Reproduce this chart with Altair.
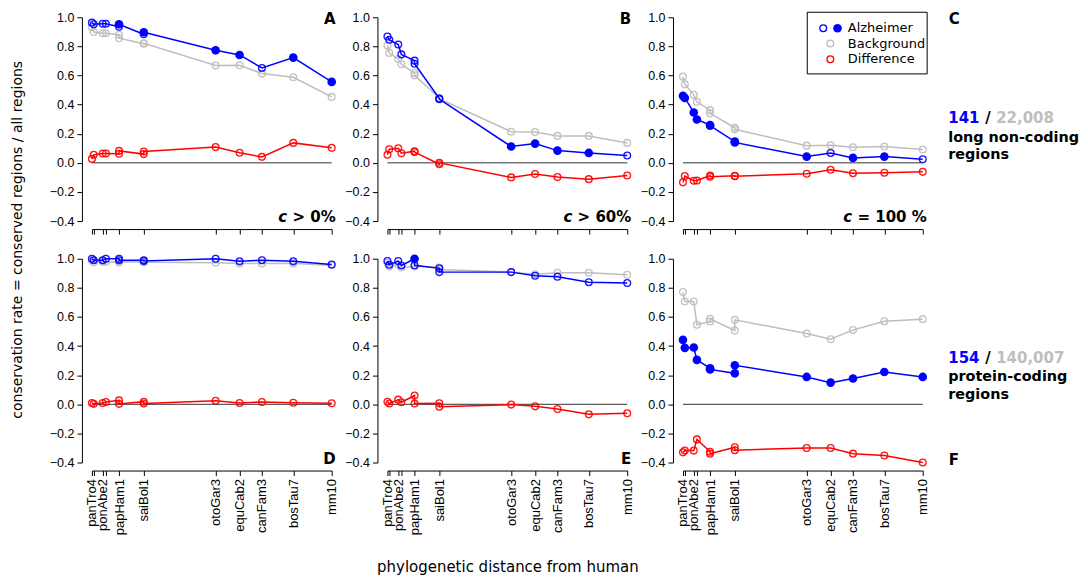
import altair as alt
import pandas as pd

# ---------------- data ----------------
species = ["panTro4", "gorGor3", "ponAbe2", "nomLeu3", "rheMac3", "papHam1", "calJac3",
           "saiBol1", "otoGar3", "equCab2", "canFam3", "bosTau7", "mm10"]
dist = [0.010, 0.017, 0.051, 0.063, 0.113, 0.113, 0.207, 0.207, 0.480, 0.571, 0.656, 0.775, 0.921]
axis_names = ["panTro4", "", "ponAbe2", "", "", "papHam1", "", "saiBol1",
              "otoGar3", "equCab2", "canFam3", "bosTau7", "mm10"]

A_alz = [0.963, 0.952, 0.955, 0.955, 0.935, 0.952, 0.883, 0.897, 0.773, 0.741, 0.652, 0.723, 0.556]
A_sig = [0, 0, 0, 0, 0, 1, 0, 1, 1, 1, 0, 1, 1]
A_bg = [0.931, 0.899, 0.890, 0.890, 0.880, 0.856, 0.818, 0.822, 0.668, 0.670, 0.613, 0.588, 0.453]
A_diff = [0.027, 0.055, 0.064, 0.064, 0.062, 0.082, 0.060, 0.078, 0.108, 0.069, 0.041, 0.137, 0.103]

B_alz = [0.868, 0.845, 0.813, 0.745, 0.702, 0.681, 0.442, 0.437, 0.112, 0.132, 0.084, 0.068, 0.050]
B_sig = [0, 0, 0, 0, 0, 0, 0, 0, 1, 1, 1, 1, 0]
B_bg = [0.806, 0.754, 0.713, 0.677, 0.617, 0.601, 0.445, 0.440, 0.214, 0.212, 0.185, 0.185, 0.137]
B_diff = [0.055, 0.093, 0.100, 0.066, 0.080, 0.074, -0.010, 0.000, -0.100, -0.077, -0.098, -0.112, -0.087]

C_alz = [0.460, 0.446, 0.346, 0.298, 0.260, 0.255, 0.146, 0.140, 0.043, 0.068, 0.034, 0.043, 0.025]
C_sig = [1, 1, 1, 1, 1, 1, 1, 1, 1, 0, 1, 1, 0]
C_bg = [0.592, 0.540, 0.467, 0.419, 0.362, 0.340, 0.241, 0.230, 0.118, 0.121, 0.107, 0.112, 0.091]
C_diff = [-0.134, -0.091, -0.123, -0.121, -0.087, -0.096, -0.089, -0.092, -0.075, -0.048, -0.071, -0.068, -0.062]

D_alz = [1.000, 0.990, 0.990, 1.000, 1.000, 0.990, 0.990, 0.985, 1.000, 0.982, 0.990, 0.982, 0.960]
D_sig = [0] * 13
D_bg = [0.990, 0.976, 0.980, 0.980, 0.975, 0.980, 0.975, 0.975, 0.972, 0.968, 0.968, 0.968, 0.955]
D_diff = [0.009, 0.003, 0.009, 0.016, 0.027, 0.003, 0.018, 0.005, 0.025, 0.009, 0.016, 0.011, 0.007]

E_alz = [0.984, 0.959, 0.984, 0.954, 1.000, 0.955, 0.934, 0.908, 0.908, 0.883, 0.876, 0.839, 0.833]
E_sig = [0, 0, 0, 0, 1, 0, 0, 0, 0, 0, 0, 0, 0]
E_bg = [0.970, 0.947, 0.961, 0.940, 0.947, 0.950, 0.940, 0.926, 0.908, 0.894, 0.904, 0.904, 0.890]
E_diff = [0.018, 0.005, 0.032, 0.014, 0.060, 0.005, 0.007, -0.016, -0.002, -0.014, -0.032, -0.069, -0.062]

F_alz = [0.443, 0.388, 0.390, 0.305, 0.248, 0.240, 0.213, 0.268, 0.188, 0.149, 0.177, 0.222, 0.188]
F_sig = [1] * 13
F_bg = [0.771, 0.706, 0.706, 0.546, 0.569, 0.587, 0.507, 0.580, 0.486, 0.447, 0.511, 0.571, 0.585]
F_diff = [-0.330, -0.318, -0.318, -0.241, -0.326, -0.339, -0.295, -0.315, -0.300, -0.300, -0.339, -0.352, -0.400]

y_ticks = [-0.4, -0.2, 0.0, 0.2, 0.4, 0.6, 0.8, 1.0]

BLUE, GRAY, RED = "#0000FF", "#BEBEBE", "#FF0000"
W, H = 240, 204
AXFONT = "Liberation Sans"
TXFONT = "DejaVu Sans"

one = pd.DataFrame({"k": [0]})

tick_vals = sorted(set(dist))
expr = "''"
for d, n in reversed(list(zip(dist, axis_names))):
    if n:
        expr = f"datum.value == {d} ? '{n}' : ({expr})"


def x_enc(labels):
    return alt.X("dist:Q",
                 scale=alt.Scale(domain=[dist[0], dist[-1]], nice=False, zero=False, padding=0),
                 axis=alt.Axis(values=tick_vals, labelExpr=expr, labels=labels, labelAngle=270,
                               labelOverlap=False, labelFont=AXFONT, labelFontSize=13,
                               labelColor="black", labelPadding=3, offset=8, tickSize=5,
                               tickColor="black", domainColor="black", grid=False, title=None))


y_enc = alt.Y("value:Q",
              scale=alt.Scale(domain=[-0.4, 1.0], nice=False, zero=False),
              axis=alt.Axis(values=y_ticks, format=".1f", offset=10, tickSize=5,
                            tickColor="black", domainColor="black", labelFont=AXFONT,
                            labelFontSize=12.5, labelColor="black", labelPadding=3,
                            labelOverlap=False, grid=False, title=None))


def txt(s, x, y, **kw):
    return alt.Chart(one).mark_text(text=s, **kw).encode(x=alt.value(x), y=alt.value(y))


def pt(x, y, color, filled, size):
    return alt.Chart(one).mark_point(shape="circle", filled=filled, color=color, size=size,
                                     strokeWidth=1.3, opacity=1).encode(x=alt.value(x), y=alt.value(y))


def panel(alz, sig, bg, diff, labels, extras):
    rows = []
    for i in range(len(dist)):
        rows.append({"idx": i, "species": species[i], "dist": dist[i], "series": "bg", "value": bg[i], "sig": 0})
        rows.append({"idx": i, "species": species[i], "dist": dist[i], "series": "alz", "value": alz[i], "sig": sig[i]})
        rows.append({"idx": i, "species": species[i], "dist": dist[i], "series": "diff", "value": diff[i], "sig": 0})
    df = pd.DataFrame(rows)
    X = x_enc(labels)
    zero = alt.Chart(pd.DataFrame({"dist": [dist[0]], "dist2": [dist[-1]], "value": [0.0]})).mark_rule(
        color="#333333", strokeWidth=1).encode(x=X, x2="dist2:Q", y=y_enc)
    base = alt.Chart(df)
    layers = [zero]
    for ser, col in [("bg", GRAY), ("alz", BLUE), ("diff", RED)]:
        sub = base.transform_filter(alt.datum.series == ser)
        layers.append(sub.mark_line(color=col, strokeWidth=1.5).encode(x=X, y=y_enc, order="idx:Q"))
        layers.append(sub.transform_filter(alt.datum.sig == 0).mark_point(
            shape="circle", filled=False, color=col, size=46, strokeWidth=1.3, opacity=0.9
        ).encode(x=X, y=y_enc))
        if ser == "alz":
            layers.append(sub.transform_filter(alt.datum.sig == 1).mark_point(
                shape="circle", filled=True, color=col, size=75, opacity=1
            ).encode(x=X, y=y_enc))
    layers += extras
    return alt.layer(*layers).properties(width=W, height=H)


def cnote(rest, rest_w):
    return [
        txt(rest, W + 4, H + 1, align="right", baseline="alphabetic", font=TXFONT,
            fontSize=15, fontWeight="bold", color="black"),
        txt("c", W + 4 - rest_w, H + 1, align="right", baseline="alphabetic", font=TXFONT,
            fontSize=15, fontWeight="bold", fontStyle="italic", color="black"),
    ]


def letter(s, x, y, align="right"):
    return txt(s, x, y, align=align, baseline="alphabetic", font=TXFONT, fontSize=15,
               fontWeight="bold", color="black")


def side(num, total, word, y0):
    x0 = 265.5
    return [
        txt(num, x0, y0, align="left", baseline="alphabetic", font=TXFONT, fontSize=15,
            fontWeight="bold", color=BLUE),
        txt("/", x0 + 37, y0, align="left", baseline="alphabetic", font=TXFONT, fontSize=15,
            fontWeight="bold", color="black"),
        txt(total, x0 + 48, y0, align="left", baseline="alphabetic", font=TXFONT, fontSize=15,
            fontWeight="bold", color=GRAY),
        txt(word, x0, y0 + 18.4, align="left", baseline="alphabetic", font=TXFONT, fontSize=14.4,
            fontWeight="bold", color="black"),
        txt("regions", x0, y0 + 36, align="left", baseline="alphabetic", font=TXFONT, fontSize=14.4,
            fontWeight="bold", color="black"),
    ]


legend = [
    alt.Chart(one).mark_rect(fill="white", stroke="black", strokeWidth=1).encode(
        x=alt.value(124.4), x2=alt.value(244.4), y=alt.value(-5), y2=alt.value(56.7)),
    pt(140.4, 11, BLUE, False, 46), pt(154.7, 11, BLUE, True, 75),
    pt(147.5, 26.3, GRAY, False, 46), pt(147.5, 42, RED, False, 46),
    txt("Alzheimer", 165, 11, align="left", baseline="middle", font=TXFONT, fontSize=13, color="black"),
    txt("Background", 165, 26.3, align="left", baseline="middle", font=TXFONT, fontSize=13, color="black"),
    txt("Difference", 165, 42, align="left", baseline="middle", font=TXFONT, fontSize=13, color="black"),
]

ytitle = txt("conservation rate = conserved regions / all regions", -73.5, 222.7, angle=270,
             align="center", baseline="middle", font=TXFONT, fontSize=14, color="black")
xtitle = txt("phylogenetic distance from human", 120.5, 309, align="center", baseline="middle",
             font=TXFONT, fontSize=15, color="black")

pA = panel(A_alz, A_sig, A_bg, A_diff, False, cnote(" > 0%", 48.5) + [letter("A", W + 4, 6.5), ytitle])
pB = panel(B_alz, B_sig, B_bg, B_diff, False, cnote(" > 60%", 58.9) + [letter("B", W + 4, 6.5)])
pC = panel(C_alz, C_sig, C_bg, C_diff, False,
           cnote(" = 100 %", 74.6) + legend + [letter("C", 266, 6.5, "left")]
           + side("141", "22,008", "long non-coding", 106))
pD = panel(D_alz, D_sig, D_bg, D_diff, True, [letter("D", W + 4, 205.5)])
pE = panel(E_alz, E_sig, E_bg, E_diff, True, [letter("E", W + 4, 205.5), xtitle])
pF = panel(F_alz, F_sig, F_bg, F_diff, True,
           [letter("F", 266, 206, "left")] + side("154", "140,007", "protein-coding", 104.3))

chart = alt.concat(pA, pB, pC, pD, pE, pF, columns=3,
                   spacing={"row": 37.7, "column": 55.8}, bounds="flush").properties(
    padding={"left": 3, "top": 3, "right": 0, "bottom": 0}
).configure(font=TXFONT, background="white").configure_view(stroke=None)

chart.save("out.html", embed_options={"renderer": "svg", "actions": False})
